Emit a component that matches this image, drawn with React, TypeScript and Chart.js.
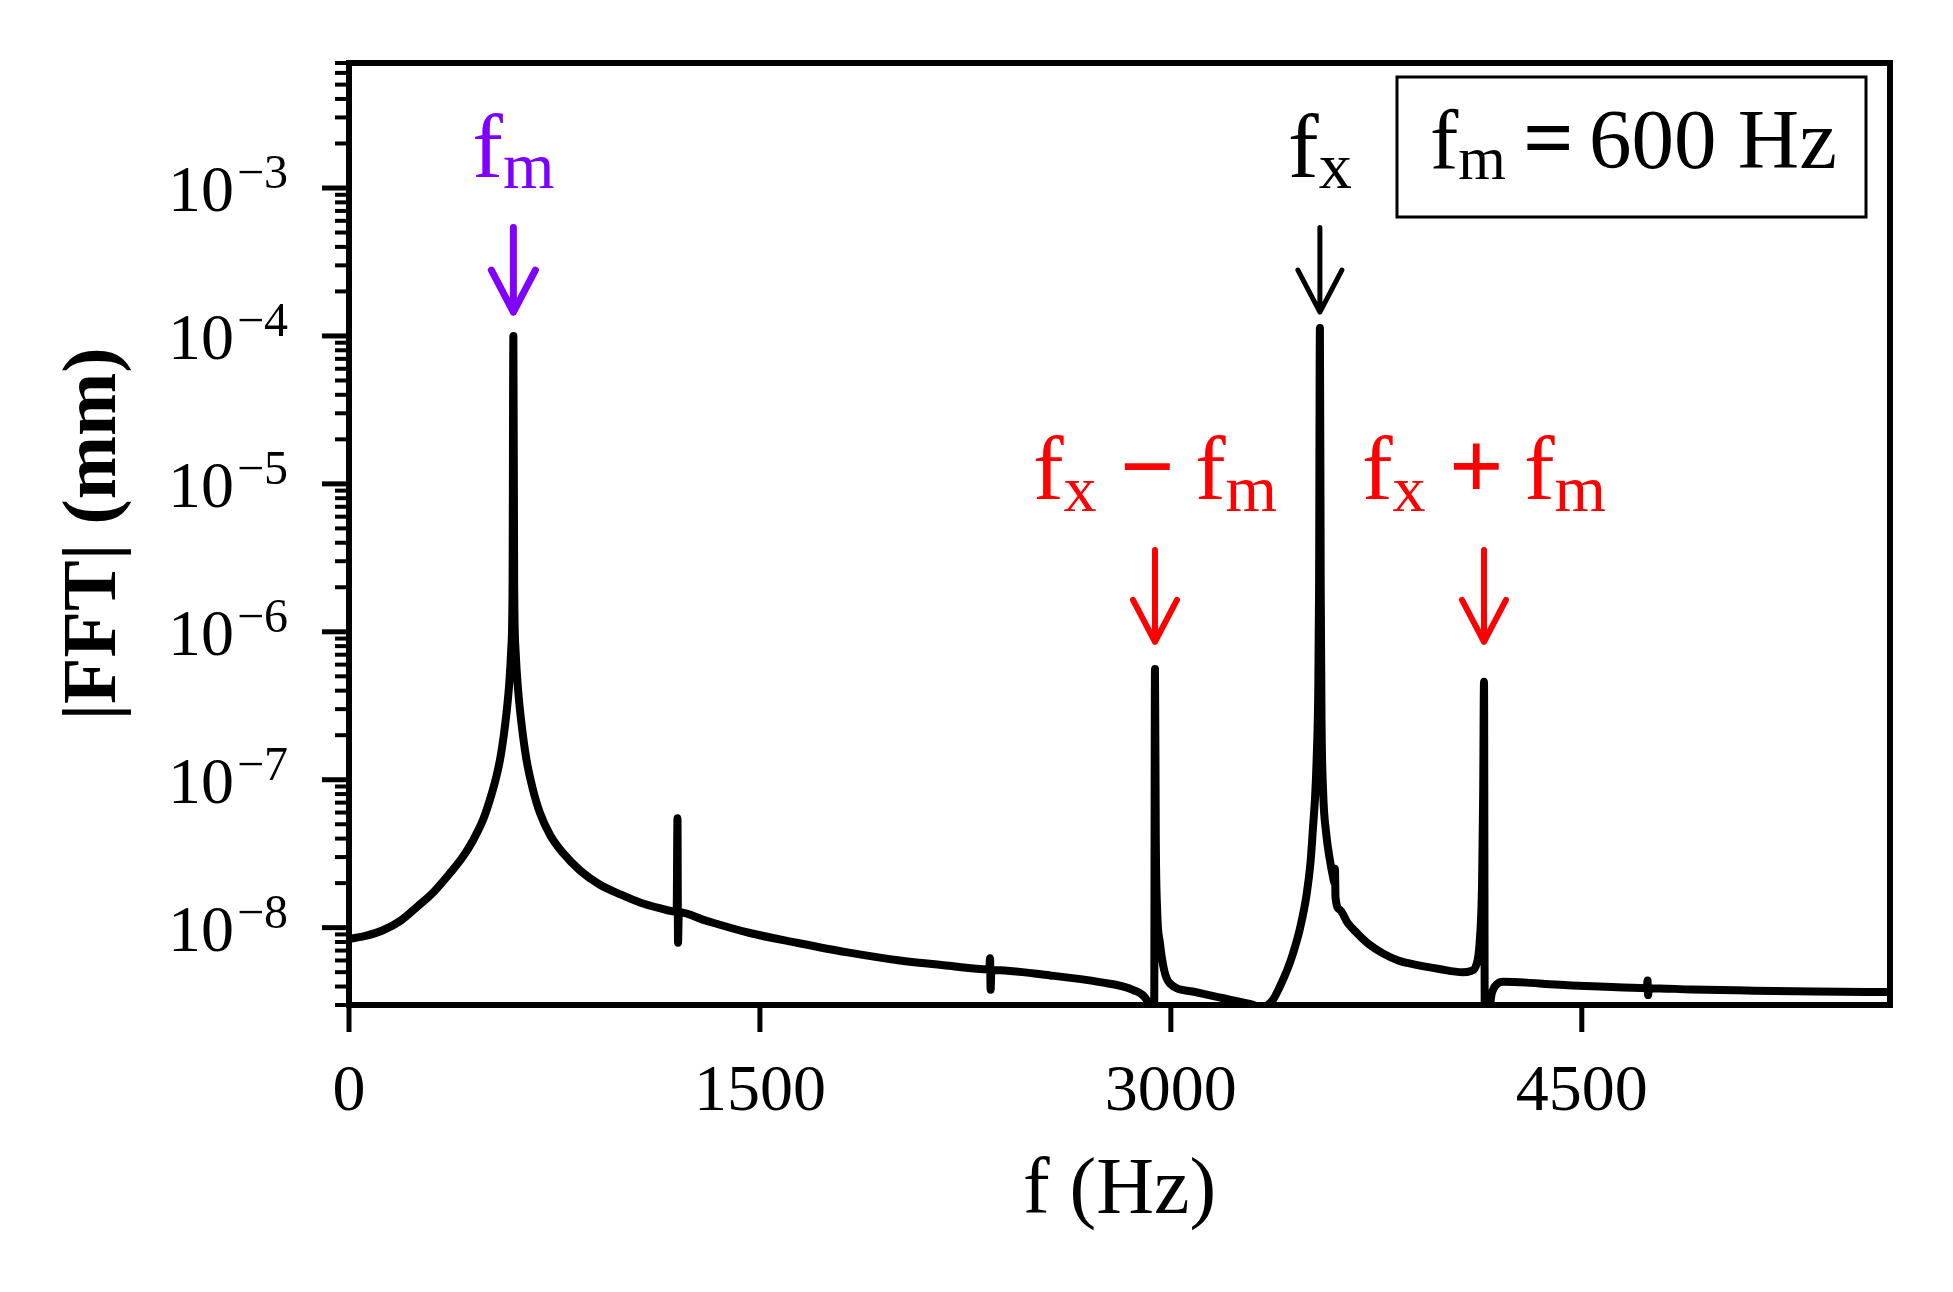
import { useEffect, useRef } from 'react';
import { Chart, registerables, type Plugin } from 'chart.js';

Chart.register(...registerables);

// Spectrum: frequency (Hz) and |FFT| amplitude (mm).
const FREQ_HZ = [
  0, 60, 124, 190, 248, 310, 369, 415, 453, 490,
  514, 535, 551, 565, 576, 585, 592, 597, 600, 603,
  608, 618, 632, 648, 670, 697, 735, 781, 845, 916,
  990, 1062, 1130, 1196, 1199, 1201, 1204, 1300, 1463, 1635,
  1820, 2011, 2180, 2337, 2340, 2342, 2345, 2560, 2741, 2861,
  2912, 2928, 2939, 2942, 2945, 2950, 2960, 2975, 2996, 3080,
  3168, 3288, 3330, 3370, 3398, 3425, 3446, 3472, 3496, 3510,
  3519, 3527, 3532, 3538, 3541, 3544, 3547, 3550, 3556, 3566,
  3580, 3592, 3598, 3599, 3601, 3617, 3645, 3679, 3720, 3774,
  3830, 3896, 3980, 4065, 4095, 4115, 4127, 4136, 4140, 4143,
  4146, 4160, 4168, 4176, 4190, 4213, 4300, 4383, 4566, 4737,
  4740, 4742, 4745, 4900, 5100, 5350, 5625,
];

const FFT_MM = [
  8.4e-9, 8.8e-9, 9.6e-9, 1.12e-8, 1.38e-8, 1.75e-8, 2.34e-8, 3.0e-8, 3.9e-8, 5.4e-8,
  7.3e-8, 1.0e-7, 1.36e-7, 2.0e-7, 2.95e-7, 4.5e-7, 7.5e-7, 2.0e-6, 1.0e-4, 2.0e-6,
  7.5e-7, 3.9e-7, 2.2e-7, 1.36e-7, 8.8e-8, 5.96e-8, 4.2e-8, 3.2e-8, 2.42e-8, 1.95e-8,
  1.68e-8, 1.48e-8, 1.36e-8, 1.28e-8, 5.5e-8, 7.9e-9, 1.27e-8, 1.12e-8, 9.2e-9, 7.9e-9,
  6.8e-9, 6.0e-9, 5.55e-9, 5.22e-9, 6.2e-9, 3.8e-9, 5.17e-9, 4.75e-9, 4.28e-9, 3.8e-9,
  3.24e-9, 2.7e-9, 2.6e-9, 5.6e-7, 4.0e-8, 1.3e-8, 7.9e-9, 5.2e-9, 4.2e-9, 3.7e-9,
  3.4e-9, 3.05e-9, 2.9e-9, 3.2e-9, 4.0e-9, 5.2e-9, 6.7e-9, 1.0e-8, 1.7e-8, 2.8e-8,
  4.8e-8, 8.0e-8, 1.35e-7, 4.0e-7, 2.0e-6, 1.13e-4, 2.0e-6, 2.5e-7, 8.1e-8, 4.5e-8,
  2.9e-8, 2.2e-8, 2.0e-8, 2.5e-8, 1.6e-8, 1.32e-8, 1.08e-8, 9.2e-9, 7.8e-9, 6.7e-9,
  6.0e-9, 5.6e-9, 5.25e-9, 5.0e-9, 5.1e-9, 5.6e-9, 7.9e-9, 2.0e-8, 8.0e-8, 4.6e-7,
  2.0e-9, 2.0e-9, 3.3e-9, 3.8e-9, 4.15e-9, 4.3e-9, 4.25e-9, 4.15e-9, 4.0e-9, 3.9e-9,
  4.4e-9, 3.5e-9, 3.9e-9, 3.82e-9, 3.76e-9, 3.7e-9, 3.67e-9,
];

const X_TICKS = [0, 1500, 3000, 4500];
const Y_DECADES = [-8, -7, -6, -5, -4, -3];
const X_MIN = 0;
const X_MAX = 5625;
const Y_MIN = 3e-9;
const Y_MAX = 7e-3;

type Part = { t: string; sub?: boolean; op?: boolean; gap?: number };

// Peak markers: arrow from tail to tip (data units), label above the tail.
const MARKERS: { x: number; tail: number; tip: number; color: string; width: number; parts: Part[] }[] = [
  { x: 600, tail: 5.4e-4, tip: 1.45e-4, color: '#7f00ff', width: 7, parts: [{ t: 'f' }, { t: 'm', sub: true }] },
  { x: 3544, tail: 5.4e-4, tip: 1.45e-4, color: '#000000', width: 5, parts: [{ t: 'f' }, { t: 'x', sub: true }] },
  {
    x: 2942, tail: 3.57e-6, tip: 8.55e-7, color: '#ff0000', width: 6,
    parts: [{ t: 'f' }, { t: 'x', sub: true }, { t: '\u2212', op: true, gap: 0.25 }, { t: 'f', gap: 0.22 }, { t: 'm', sub: true }],
  },
  {
    x: 4143, tail: 3.57e-6, tip: 8.55e-7, color: '#ff0000', width: 6,
    parts: [{ t: 'f' }, { t: 'x', sub: true }, { t: '+', op: true, gap: 0.25 }, { t: 'f', gap: 0.22 }, { t: 'm', sub: true }],
  },
];

const LEGEND_PARTS: Part[] = [
  { t: 'f' }, { t: 'm', sub: true }, { t: '=', op: true, gap: 0.2 }, { t: '600 Hz', gap: 0.18 },
];

const SERIF = '"Liberation Serif", "Times New Roman", serif';
const SUB = 0.72;

function partFont(p: Part, size: number) {
  if (p.sub) return `${size * SUB}px ${SERIF}`;
  if (p.op) return `bold ${size * 1.05}px ${SERIF}`;
  return `${size}px ${SERIF}`;
}

function drawParts(
  ctx: CanvasRenderingContext2D, parts: Part[], x: number, y: number, size: number, align: 'left' | 'center',
) {
  const widths = parts.map((p) => {
    ctx.font = partFont(p, size);
    return ctx.measureText(p.t).width;
  });
  const total = parts.reduce((s, p, i) => s + (p.gap ?? 0) * size + widths[i], 0);
  let cx = align === 'center' ? x - total / 2 : x;
  ctx.textAlign = 'left';
  ctx.textBaseline = 'alphabetic';
  parts.forEach((p, i) => {
    cx += (p.gap ?? 0) * size;
    ctx.font = partFont(p, size);
    ctx.fillText(p.t, cx, p.sub ? y + size * 0.125 : y);
    cx += widths[i];
  });
}

function drawArrow(ctx: CanvasRenderingContext2D, x: number, y0: number, y1: number, color: string, width: number) {
  ctx.save();
  ctx.strokeStyle = color;
  ctx.lineWidth = width;
  ctx.lineCap = 'round';
  ctx.lineJoin = 'round';
  ctx.beginPath();
  ctx.moveTo(x, y0);
  ctx.lineTo(x, y1);
  ctx.moveTo(x - 22, y1 - 42);
  ctx.lineTo(x, y1);
  ctx.lineTo(x + 22, y1 - 42);
  ctx.stroke();
  ctx.restore();
}

const decorations: Plugin<'line'> = {
  id: 'decorations',
  afterDraw(chart) {
    const { ctx, chartArea: a, scales } = chart;
    const xs = scales.x;
    const ys = scales.y;
    ctx.save();
    ctx.fillStyle = '#000';
    ctx.strokeStyle = '#000';
    ctx.lineCap = 'butt';

    // x ticks and labels
    ctx.lineWidth = 5;
    ctx.font = `66px ${SERIF}`;
    ctx.textAlign = 'center';
    ctx.textBaseline = 'alphabetic';
    X_TICKS.forEach((v) => {
      const px = xs.getPixelForValue(v);
      ctx.beginPath();
      ctx.moveTo(px, a.bottom);
      ctx.lineTo(px, a.bottom + 27);
      ctx.stroke();
      ctx.fillText(String(v), px, a.bottom + 105);
    });

    // y ticks: majors per decade, minors 2..9
    Y_DECADES.forEach((e) => {
      const py = ys.getPixelForValue(Math.pow(10, e));
      ctx.lineWidth = 5;
      ctx.beginPath();
      ctx.moveTo(a.left - 27, py);
      ctx.lineTo(a.left, py);
      ctx.stroke();
      const labelRight = a.left - 61;
      ctx.font = `48px ${SERIF}`;
      ctx.textAlign = 'right';
      const sup = `\u2212${-e}`;
      const supW = ctx.measureText(sup).width;
      ctx.fillText(sup, labelRight, py);
      ctx.font = `66px ${SERIF}`;
      ctx.fillText('10', labelRight - supW - 3, py + 23);
    });
    ctx.lineWidth = 4;
    for (let e = Y_DECADES[0] - 1; e <= Y_DECADES[Y_DECADES.length - 1]; e++) {
      for (let k = 2; k <= 9; k++) {
        const v = k * Math.pow(10, e);
        if (v < Y_MIN * 0.999 || v > Y_MAX * 1.001) continue;
        const py = ys.getPixelForValue(v);
        ctx.beginPath();
        ctx.moveTo(a.left - 14, py);
        ctx.lineTo(a.left, py);
        ctx.stroke();
      }
    }

    // frame
    ctx.lineWidth = 6;
    ctx.lineJoin = 'miter';
    ctx.strokeRect(a.left, a.top, a.right - a.left, a.bottom - a.top);

    // axis titles
    ctx.font = `80px ${SERIF}`;
    ctx.textAlign = 'center';
    ctx.fillText('f (Hz)', (a.left + a.right) / 2, a.bottom + 208);
    ctx.save();
    ctx.translate(95, (a.top + a.bottom) / 2);
    ctx.rotate(-Math.PI / 2);
    ctx.font = `bold 76px ${SERIF}`;
    ctx.textBaseline = 'middle';
    ctx.fillText('|FFT| (mm)', 0, 0);
    ctx.restore();

    // peak markers
    MARKERS.forEach((m) => {
      const px = xs.getPixelForValue(m.x);
      const yTail = ys.getPixelForValue(m.tail);
      const yTip = ys.getPixelForValue(m.tip);
      drawArrow(ctx, px, yTail, yTip, m.color, m.width);
      ctx.fillStyle = m.color;
      drawParts(ctx, m.parts, px, yTail - 51, 92, 'center');
    });

    // legend box
    const bw = 469;
    const bh = 140;
    const bx = a.right - 24 - bw;
    const by = a.top + 14;
    ctx.fillStyle = '#fff';
    ctx.fillRect(bx, by, bw, bh);
    ctx.strokeStyle = '#000';
    ctx.lineWidth = 3;
    ctx.strokeRect(bx, by, bw, bh);
    ctx.fillStyle = '#000';
    drawParts(ctx, LEGEND_PARTS, bx + 33, by + 91, 85, 'left');

    ctx.restore();
  },
};

export default function App() {
  const canvasRef = useRef<HTMLCanvasElement | null>(null);

  useEffect(() => {
    const canvas = canvasRef.current;
    if (!canvas) return;
    document.body.style.margin = '0';

    const chart = new Chart(canvas, {
      type: 'line',
      data: {
        datasets: [
          {
            data: FREQ_HZ.map((f, i) => ({ x: f, y: FFT_MM[i] })),
            borderColor: '#000',
            borderWidth: 8,
            borderJoinStyle: 'round',
            borderCapStyle: 'round',
            pointRadius: 0,
            cubicInterpolationMode: 'monotone',
          },
        ],
      },
      options: {
        animation: false,
        responsive: false,
        devicePixelRatio: 1,
        events: [],
        layout: { padding: { left: 349, right: 63, top: 63, bottom: 287 } },
        plugins: { legend: { display: false }, tooltip: { enabled: false } },
        scales: {
          x: { type: 'linear', display: false, min: X_MIN, max: X_MAX },
          y: { type: 'logarithmic', display: false, min: Y_MIN, max: Y_MAX },
        },
      },
      plugins: [decorations],
    });
    return () => chart.destroy();
  }, []);

  return (
    <div style={{ width: 1953, height: 1292, background: '#fff' }}>
      <canvas ref={canvasRef} width={1953} height={1292} />
    </div>
  );
}
